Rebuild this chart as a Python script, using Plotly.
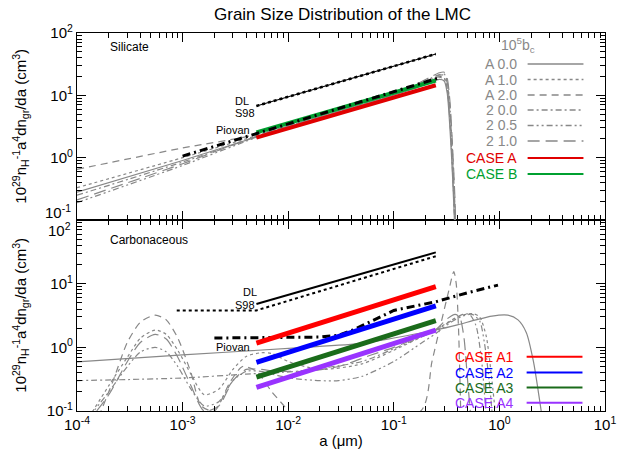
import plotly.graph_objects as go

# ---------------- DATA ----------------
x_ticks = [1e-4, 1e-3, 1e-2, 1e-1, 1e0, 1e1]
x_ticktext = ["10<sup>-4</sup>", "10<sup>-3</sup>", "10<sup>-2</sup>", "10<sup>-1</sup>", "10<sup>0</sup>", "10<sup>1</sup>"]
y_ticks = [0.1, 1, 10, 100]
y_ticktext = ["10<sup>-1</sup>", "10<sup>0</sup>", "10<sup>1</sup>", "10<sup>2</sup>"]
x_minor = [k * 10.0 ** n for n in range(-4, 1) for k in range(2, 10)]
y_minor = [k * 10.0 ** n for n in range(-1, 2) for k in range(2, 10)]

# Silicate panel
sil_dl_a = [0.005, 0.25]
sil_dl_y = [6.75, 46.0]
sil_pio_a = [0.001, 0.28]
sil_pio_y = [1.06, 19.5]
sil_caseA_a = [0.005, 0.25]
sil_caseA_y = [2.1, 14.5]
sil_caseB_a = [0.005, 0.25]
sil_caseB_y = [2.55, 17.3]

sil_grey_a = [1e-4, 1e-3, 5e-3, 0.05, 0.15, 0.22, 0.27, 0.3, 0.32, 0.34, 0.36, 0.38, 0.4]
sil_A00 = [0.28, 0.9, 2.15, 7.0, 12.5, 16.0, 18.0, 17.0, 11.0, 3.0, 0.5, 0.06, 0.01]
sil_A10 = [0.33, 1.0, 2.25, 7.3, 13.0, 17.0, 19.5, 18.5, 13.0, 4.0, 0.7, 0.08, 0.01]
sil_A20 = [0.65, 1.43, 2.35, 7.5, 13.5, 18.0, 21.0, 21.0, 16.0, 6.0, 1.0, 0.12, 0.01]
sil_200 = [0.25, 0.85, 2.15, 7.2, 13.0, 17.5, 20.0, 19.0, 13.0, 4.0, 0.6, 0.07, 0.01]
sil_205 = [0.19, 0.75, 2.1, 7.2, 13.5, 18.5, 21.5, 22.0, 17.0, 6.5, 1.2, 0.15, 0.01]
sil_210 = [0.21, 0.8, 2.2, 7.5, 14.0, 19.5, 23.0, 23.5, 19.0, 8.0, 1.5, 0.2, 0.01]

# Carbonaceous panel
car_dl_a = [0.005, 0.25]
car_dl_y = [4.8, 31.0]
car_s98_a = [0.00088, 0.005, 0.25]
car_s98_y = [3.8, 3.8, 27.0]
car_pio_a = [0.002, 0.005, 0.01, 0.02, 0.03, 0.042, 0.1, 0.25, 0.5, 0.97]
car_pio_y = [1.4, 1.42, 1.42, 1.45, 1.55, 1.9, 3.8, 5.2, 7.2, 9.5]
case_a = [0.005, 0.25]
case_A1 = [1.16, 8.96]
case_A2 = [0.58, 4.46]
case_A3 = [0.34, 2.62]
case_A4 = [0.235, 1.87]

car_A00_a = [1e-4, 1e-3, 0.012, 0.05, 0.1, 0.25, 0.4, 0.6, 0.85, 1.2, 1.5, 1.8, 2.1, 2.4, 2.7]
car_A00_y = [0.59, 0.76, 0.98, 1.15, 1.4, 1.87, 2.25, 2.7, 3.1, 3.2, 2.7, 1.7, 0.6, 0.15, 0.04]

car_A10_a = [1.3e-4, 2e-4, 3e-4, 4e-4, 5.5e-4, 7e-4, 9e-4, 1.2e-3, 1.6e-3, 2.2e-3, 3e-3, 4e-3, 5.5e-3, 7e-3, 0.01, 0.02, 0.05, 0.1, 0.25, 0.4, 0.55, 0.65, 0.75, 0.85, 0.95]
car_A10_y = [0.08, 0.25, 0.7, 1.4, 1.87, 1.6, 0.9, 0.38, 0.18, 0.22, 0.45, 0.72, 0.82, 0.8, 0.6, 0.45, 0.55, 0.9, 1.9, 3.0, 3.4, 3.0, 1.5, 0.3, 0.05]

car_A20_a = [1.6e-4, 2.2e-4, 3e-4, 4e-4, 5.5e-4, 7e-4, 9e-4, 1.2e-3, 1.5e-3, 2e-3, 2.8e-3, 3.7e-3, 5e-3, 7e-3, 0.01, 0.013, 0.18, 0.23, 0.28, 0.33, 0.37, 0.39, 0.41, 0.43]
car_A20_y = [0.08, 0.3, 1.2, 2.5, 3.2, 2.7, 1.4, 0.4, 0.12, 0.1, 0.28, 0.5, 0.42, 0.2, 0.1, 0.05, 0.1, 0.6, 2.4, 7.5, 15.5, 10.0, 2.0, 0.1]

car_200_a = [1e-4, 1e-3, 4e-3, 0.012, 0.05, 0.1, 0.25, 0.35, 0.45, 0.52, 0.6, 0.68, 0.75]
car_200_y = [0.3, 0.33, 0.38, 0.42, 0.6, 0.95, 1.85, 2.6, 3.3, 3.3, 2.2, 0.6, 0.08]

car_205_a = [1.3e-4, 2e-4, 3e-4, 4e-4, 5.5e-4, 7e-4, 9e-4, 1.2e-3, 1.6e-3, 2.2e-3, 3e-3, 4e-3, 5.5e-3, 8e-3, 0.012, 0.02, 0.03, 0.05, 0.1, 0.18, 0.25, 0.35, 0.45, 0.55, 0.65, 0.72, 0.8, 0.88]
car_205_y = [0.08, 0.2, 0.5, 0.85, 1.0, 0.85, 0.5, 0.22, 0.12, 0.14, 0.3, 0.42, 0.42, 0.36, 0.32, 0.3, 0.3, 0.35, 0.6, 1.15, 1.65, 2.5, 3.1, 3.3, 2.6, 1.2, 0.3, 0.05]

car_210_a = [1.2e-4, 2e-4, 3e-4, 4e-4, 5.5e-4, 7e-4, 9e-4, 1.2e-3, 1.6e-3, 2.2e-3, 3e-3, 4e-3, 5.5e-3, 7.5e-3, 0.01, 0.015, 0.03, 0.06, 0.1, 0.18, 0.25, 0.32, 0.38, 0.42, 0.46, 0.5, 0.55]
car_210_y = [0.06, 0.18, 0.6, 1.2, 1.6, 1.35, 0.7, 0.25, 0.1, 0.12, 0.3, 0.45, 0.45, 0.42, 0.42, 0.42, 0.5, 0.75, 1.0, 1.5, 1.9, 2.8, 3.3, 3.0, 1.5, 0.3, 0.05]

sil_legend = ["A 0.0", "A 1.0", "A 2.0", "2 0.0", "2 0.5", "2 1.0", "CASE A", "CASE B"]
car_legend = ["CASE A1", "CASE A2", "CASE A3", "CASE A4"]

# ---------------- STYLE ----------------
GREY = "#888888"
D_SOLID = "solid"
D_DOT = "dot"
D_DASH = "7px,5px"
D_DASHDOT = "6px,3px,2px,3px"
D_DASHDOTDOT = "6px,3px,2px,3px,2px,3px"
D_LONG = "12px,6px"
grey_dashes = [D_SOLID, D_DOT, D_DASH, D_DASHDOT, D_DASHDOTDOT, D_LONG]
RED_T, GREEN_T = "#e00000", "#00a030"
case_cols = ["#ff0000", "#0000ff", "#1a6b1a", "#9933ff"]
FONT = "Liberation Sans"

fig = go.Figure()

def add(x, y, color, width, dash, xa, ya, shape="linear"):
    line = dict(color=color, width=width, dash=dash, shape=shape)
    if shape == "spline":
        line["smoothing"] = 0.7
    fig.add_trace(go.Scatter(x=x, y=y, mode="lines", xaxis=xa, yaxis=ya, line=line,
                             showlegend=False, hoverinfo="skip"))

# Silicate (top: x2/y2)
for ys, d in zip([sil_A00, sil_A10, sil_A20, sil_200, sil_205, sil_210], grey_dashes):
    add(sil_grey_a, ys, GREY, 1.2, d, "x2", "y2", "spline")
add(sil_caseA_a, sil_caseA_y, RED_T, 4, "solid", "x2", "y2")
add(sil_caseB_a, sil_caseB_y, GREEN_T, 4, "solid", "x2", "y2")
add(sil_dl_a, sil_dl_y, "black", 1.2, "solid", "x2", "y2")
add(sil_dl_a, sil_dl_y, "black", 2.5, "dot", "x2", "y2")
add(sil_pio_a, sil_pio_y, "black", 3, "8px,4px,2px,4px", "x2", "y2")

# Carbonaceous (bottom: x/y)
car_grey = [(car_A00_a, car_A00_y), (car_A10_a, car_A10_y), (car_A20_a, car_A20_y),
            (car_200_a, car_200_y), (car_205_a, car_205_y), (car_210_a, car_210_y)]
for (xs, ys), d in zip(car_grey, grey_dashes):
    add(xs, ys, GREY, 1.2, d, "x", "y", "spline")
add(car_dl_a, car_dl_y, "black", 2, "solid", "x", "y")
add(car_s98_a, car_s98_y, "black", 2, "dot", "x", "y")
add(car_pio_a, car_pio_y, "black", 3, "8px,4px,2px,4px", "x", "y")
for ys, c in zip([case_A1, case_A2, case_A3, case_A4], case_cols):
    add(case_a, ys, c, 5, "solid", "x", "y")

# ---------------- LAYOUT ----------------
W, H = 628, 466
L, R, T, B = 77, 12, 33, 55
PW, PH = W - L - R, H - T - B
split = 220
dom_split = (H - B - split) / PH

def px(x):
    return (x - L) / PW

def py(y):
    return (H - B - y) / PH

def axis_common(minor_vals):
    return dict(type="log", showline=True, linecolor="black", linewidth=1.2,
                mirror="allticks", ticks="inside", ticklen=9, tickcolor="black",
                showgrid=False, zeroline=False,
                minor=dict(ticks="inside", ticklen=5, tickcolor="black", showgrid=False,
                           tickmode="array", tickvals=minor_vals),
                tickfont=dict(family=FONT, size=15, color="black"))

xr = [-4, 1]
yr = [-1, 2]
# the two labels at the panel junction are drawn separately so they do not coincide
y_text_top = ["", y_ticktext[1], y_ticktext[2], y_ticktext[3]]
y_text_bot = [y_ticktext[0], y_ticktext[1], y_ticktext[2], ""]
fig.update_layout(
    width=W, height=H, margin=dict(l=L, r=R, t=T, b=B),
    paper_bgcolor="white", plot_bgcolor="white", showlegend=False,
    font=dict(family=FONT, color="black"),
    xaxis=dict(axis_common(x_minor), range=xr, domain=[0, 1], anchor="y",
               tickmode="array", tickvals=x_ticks, ticktext=x_ticktext,
               title=dict(text="a (\u03bcm)", font=dict(family=FONT, size=15), standoff=3)),
    yaxis=dict(axis_common(y_minor), range=yr, domain=[0, dom_split], anchor="x",
               tickmode="array", tickvals=y_ticks, ticktext=y_text_bot),
    xaxis2=dict(axis_common(x_minor), range=xr, domain=[0, 1], anchor="y2",
                tickmode="array", tickvals=x_ticks, showticklabels=False),
    yaxis2=dict(axis_common(y_minor), range=yr, domain=[dom_split, 1], anchor="x2",
                tickmode="array", tickvals=y_ticks, ticktext=y_text_top),
)

ann = []
def text(x, y, s, size=11, color="black", xanchor="left", angle=0):
    ann.append(dict(x=px(x), y=py(y), xref="paper", yref="paper", text=s, showarrow=False,
                    xanchor=xanchor, yanchor="middle", textangle=angle,
                    font=dict(family=FONT, size=size, color=color)))

text(348, 15, "Grain Size Distribution of the LMC", size=17, xanchor="center")
ytitle = "10<sup>29</sup>n<sub>H</sub><sup>-1</sup>a<sup>4</sup>dn<sub>gr</sub>/da (cm<sup>3</sup>)"
text(19, 126.5, ytitle, size=15, xanchor="center", angle=-90)
text(19, 315.5, ytitle, size=15, xanchor="center", angle=-90)

# junction tick labels
text(73, 211, y_ticktext[0], size=15, xanchor="right")
text(73, 229, y_ticktext[3], size=15, xanchor="right")

text(109, 47, "Silicate", size=12)
text(236, 101, "DL", size=11)
text(236, 113, "S98", size=11)
text(217, 130, "Piovan", size=11)
text(109, 240, "Carbonaceous", size=12)
text(244, 292, "DL", size=11)
text(236, 305, "S98", size=11)
text(217, 347, "Piovan", size=11)

# Silicate legend
text(527, 45, "10<sup>5</sup>b<sub>c</sub>", size=14, color=GREY, xanchor="center")
sil_rows = [64, 79.5, 95, 110, 125.5, 141, 158, 174]
sil_cols = [GREY] * 6 + [RED_T, GREEN_T]
sil_dash = grey_dashes + ["solid", "solid"]
shapes = []
for lab, yy, c, d in zip(sil_legend, sil_rows, sil_cols, sil_dash):
    text(528, yy, lab, size=14, color=c, xanchor="right")
    shapes.append(dict(type="line", xref="paper", yref="paper", x0=px(537), x1=px(594),
                       y0=py(yy), y1=py(yy), line=dict(color=c, width=1.5 if c == GREY else 2, dash=d)))
car_rows = [356.7, 372.5, 387.5, 402.7]
for lab, yy, c in zip(car_legend, car_rows, case_cols):
    text(525, yy, lab, size=14, color=c, xanchor="right")
    shapes.append(dict(type="line", xref="paper", yref="paper", x0=px(536), x1=px(593),
                       y0=py(yy), y1=py(yy), line=dict(color=c, width=2)))

fig.update_layout(annotations=ann, shapes=shapes)
fig.write_html("out.html")
